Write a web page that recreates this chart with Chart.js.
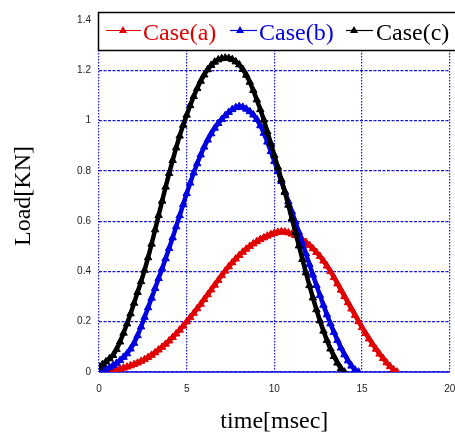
<!DOCTYPE html>
<html>
<head>
<meta charset="utf-8">
<script src="https://cdn.jsdelivr.net/npm/chart.js@4.4.1/dist/chart.umd.min.js"></script>
<style>
html,body{margin:0;padding:0;background:#fff;}
canvas{display:block;}
</style>
</head>
<body>
<canvas id="c" width="455" height="432"></canvas>
<script>
// time axis samples [msec]
const TIME = [0,0.2,0.4,0.6,0.8,1,1.2,1.4,1.6,1.8,2,2.2,2.4,2.6,2.8,3,3.2,3.4,3.6,3.8,
  4,4.2,4.4,4.6,4.8,5,5.2,5.4,5.6,5.8,6,6.2,6.4,6.6,6.8,7,7.2,7.4,7.6,7.8,
  8,8.2,8.4,8.6,8.8,9,9.2,9.4,9.6,9.8,10,10.2,10.4,10.6,10.8,11,11.2,11.4,11.6,11.8,
  12,12.2,12.4,12.6,12.8,13,13.2,13.4,13.6,13.8,14,14.2,14.4,14.6,14.8,15,15.2,15.4,15.6,15.8,
  16,16.2,16.4,16.6,16.8,17];

// Load [KN]
const CASE_A = [0.000,0.001,0.002,0.004,0.006,0.009,0.012,0.016,0.020,0.025,
  0.030,0.036,0.043,0.050,0.058,0.067,0.077,0.088,0.099,0.111,
  0.124,0.138,0.152,0.167,0.183,0.200,0.217,0.234,0.252,0.270,
  0.289,0.308,0.327,0.346,0.365,0.384,0.402,0.419,0.435,0.450,
  0.464,0.477,0.489,0.500,0.510,0.519,0.527,0.534,0.541,0.547,
  0.552,0.556,0.558,0.557,0.554,0.549,0.543,0.535,0.526,0.516,
  0.504,0.491,0.476,0.460,0.442,0.422,0.400,0.376,0.351,0.326,
  0.301,0.276,0.251,0.226,0.201,0.177,0.154,0.132,0.111,0.091,
  0.072,0.054,0.037,0.022,0.009,0.000];

const CASE_B = [0.004,0.007,0.012,0.018,0.026,0.035,0.046,0.059,0.073,0.092,
  0.115,0.145,0.180,0.218,0.256,0.294,0.333,0.372,0.411,0.451,
  0.492,0.534,0.578,0.622,0.666,0.710,0.752,0.792,0.829,0.864,
  0.895,0.923,0.948,0.970,0.989,1.005,1.020,1.033,1.044,1.052,
  1.056,1.053,1.046,1.036,1.023,1.005,0.980,0.950,0.915,0.877,
  0.838,0.798,0.758,0.718,0.678,0.638,0.597,0.556,0.514,0.471,
  0.428,0.386,0.345,0.305,0.266,0.228,0.192,0.158,0.126,0.096,
  0.069,0.045,0.024,0.008,0.000];

const CASE_C = [0.020,0.030,0.041,0.053,0.066,0.090,0.120,0.155,0.192,0.232,
  0.274,0.317,0.360,0.405,0.455,0.509,0.566,0.623,0.680,0.736,
  0.790,0.842,0.892,0.939,0.982,1.022,1.060,1.096,1.128,1.157,
  1.182,1.203,1.220,1.233,1.242,1.247,1.249,1.248,1.243,1.234,
  1.222,1.204,1.181,1.153,1.120,1.083,1.044,1.003,0.956,0.909,
  0.862,0.815,0.765,0.715,0.664,0.610,0.556,0.502,0.448,0.395,
  0.344,0.295,0.248,0.204,0.163,0.126,0.092,0.062,0.036,0.014,
  0.000];

const SERIES_NAMES = ['Case(a)','Case(b)','Case(c)'];
const X_TICKS = [0,5,10,15,20];
const Y_TICKS = [0,0.2,0.4,0.6,0.8,1,1.2,1.4];

const COLORS = ['#e00000','#0000e0','#000000'];
const GRID = '#1414dc';
const SERIF = '"Liberation Serif","Times New Roman",serif';
const SANS = '"Liberation Sans",Arial,sans-serif';

function pts(vals){ return vals.map((v,i)=>({x:TIME[i], y:v})); }

function ds(label, vals, color, order){
  return {
    label, data: pts(vals), borderColor: color, backgroundColor: color,
    borderWidth: 4.5, pointStyle: 'triangle', pointRadius: 4.3,
    pointBorderWidth: 1, pointBorderColor: color, pointBackgroundColor: color,
    tension: 0, order
  };
}

const bottomLine = {
  id: 'bottomLine',
  beforeDatasetsDraw(chart){
    const {ctx, chartArea: a} = chart;
    ctx.save();
    ctx.strokeStyle = GRID;
    ctx.lineWidth = 1.5;
    ctx.beginPath(); ctx.moveTo(a.left, a.bottom); ctx.lineTo(a.right, a.bottom); ctx.stroke();
    ctx.restore();
  }
};

const legendBox = {
  id: 'legendBox',
  afterDraw(chart){
    const ctx = chart.ctx;
    ctx.save();
    ctx.fillStyle = '#fff';
    ctx.fillRect(98, 12.5, 370, 38);
    ctx.strokeStyle = '#000';
    ctx.lineWidth = 1.5;
    ctx.strokeRect(98.5, 12.5, 370, 38);
    const items = [
      {l0:106, l1:141, tri:123, tx:143},
      {l0:230, l1:257, tri:240, tx:259},
      {l0:346, l1:373, tri:354, tx:376}
    ];
    const ly = 30.5;
    items.forEach((it, i) => {
      ctx.strokeStyle = COLORS[i];
      ctx.fillStyle = COLORS[i];
      ctx.lineWidth = 1.2;
      ctx.beginPath(); ctx.moveTo(it.l0, ly); ctx.lineTo(it.l1, ly); ctx.stroke();
      ctx.beginPath();
      ctx.moveTo(it.tri, ly - 4.5);
      ctx.lineTo(it.tri + 4, ly + 2.5);
      ctx.lineTo(it.tri - 4, ly + 2.5);
      ctx.closePath(); ctx.fill();
      ctx.font = '24px ' + SERIF;
      ctx.textBaseline = 'alphabetic';
      ctx.textAlign = 'left';
      ctx.fillText(SERIES_NAMES[i], it.tx, 40);
    });
    ctx.restore();
  }
};

new Chart(document.getElementById('c'), {
  type: 'line',
  data: {
    datasets: [
      ds(SERIES_NAMES[0], CASE_A, COLORS[0], 3),
      ds(SERIES_NAMES[1], CASE_B, COLORS[1], 2),
      ds(SERIES_NAMES[2], CASE_C, COLORS[2], 1)
    ]
  },
  options: {
    responsive: false,
    animation: false,
    devicePixelRatio: 1,
    layout: { padding: { top: 20, right: 2, left: 0, bottom: 0 } },
    plugins: { legend: { display: false }, tooltip: { enabled: false } },
    scales: {
      x: {
        type: 'linear', min: 0, max: 20,
        afterBuildTicks: (axis) => { axis.ticks = X_TICKS.map(v => ({value: v})); },
        afterFit: (axis) => { axis.height = 60; axis.paddingLeft = 0; axis.paddingRight = 0; },
        ticks: { padding: 11, color: '#222', font: { family: SANS, size: 10 }, maxRotation: 0, autoSkip: false },
        grid: { color: GRID, lineWidth: 1.2, drawTicks: false },
        border: { display: false, dash: [1.5, 1.5] },
        title: { display: true, text: 'time[msec]', color: '#000',
                 font: { family: SERIF, size: 24, lineHeight: 1 }, padding: { top: 0, bottom: -2 } }
      },
      y: {
        type: 'linear', min: 0, max: 1.4,
        afterBuildTicks: (axis) => { axis.ticks = Y_TICKS.map(v => ({value: v})); },
        afterFit: (axis) => { axis.width = 99; axis.paddingTop = 0; axis.paddingBottom = 0; },
        ticks: { padding: 8, color: '#222', font: { family: SANS, size: 10 },
                 callback: (v) => String(+Number(v).toFixed(1)) },
        grid: { color: GRID, lineWidth: 1.2, drawTicks: false },
        border: { display: false, dash: [3, 1.5] },
        title: { display: true, text: 'Load[KN]', color: '#000',
                 font: { family: SERIF, size: 24, lineHeight: 1.2 }, padding: { top: 9, bottom: 0 } }
      }
    }
  },
  plugins: [bottomLine, legendBox]
});
</script>
</body>
</html>
